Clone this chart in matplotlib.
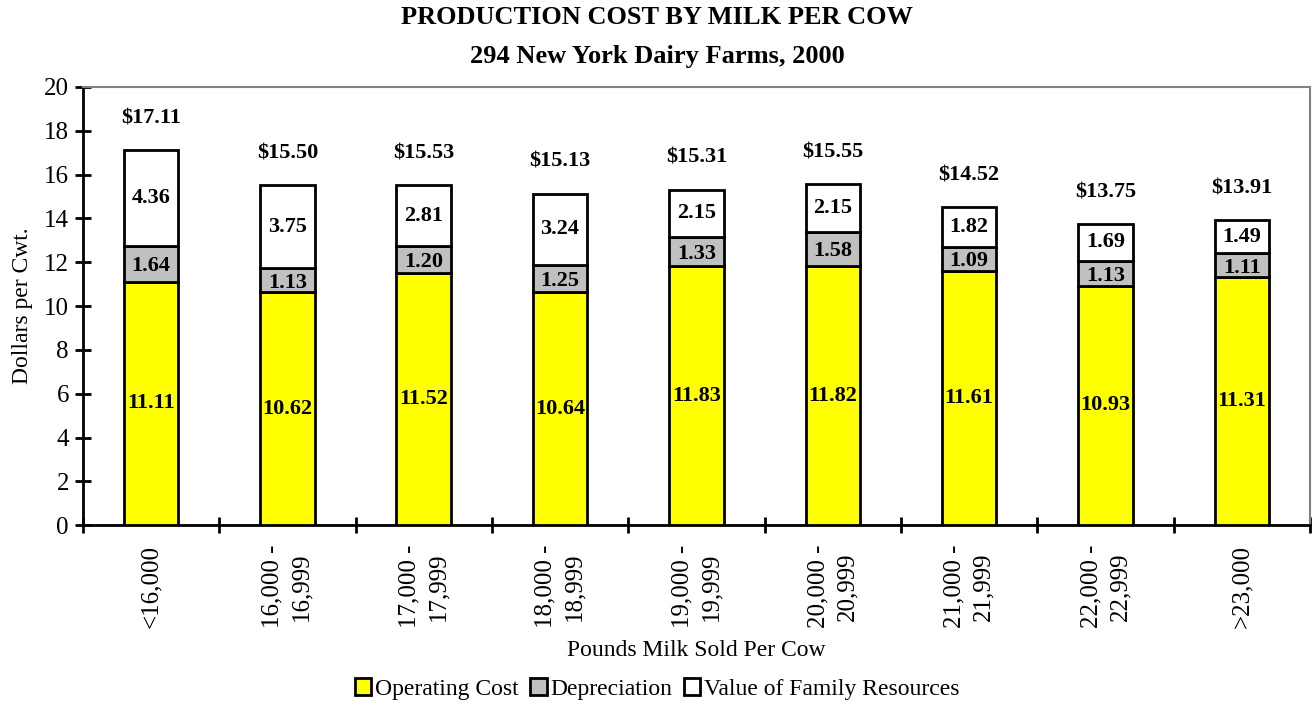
import matplotlib
matplotlib.use("Agg")
import matplotlib.pyplot as plt
import numpy as np

categories = ["<16,000", "16,000 -\n16,999", "17,000 -\n17,999", "18,000 -\n18,999",
              "19,000 -\n19,999", "20,000 -\n20,999", "21,000 -\n21,999",
              "22,000 -\n22,999", ">23,000"]
operating = [11.11, 10.62, 11.52, 10.64, 11.83, 11.82, 11.61, 10.93, 11.31]
depreciation = [1.64, 1.13, 1.20, 1.25, 1.33, 1.58, 1.09, 1.13, 1.11]
family = [4.36, 3.75, 2.81, 3.24, 2.15, 2.15, 1.82, 1.69, 1.49]
totals = [17.11, 15.50, 15.53, 15.13, 15.31, 15.55, 14.52, 13.75, 13.91]

plt.rcParams['font.family'] = ['Liberation Serif', 'DejaVu Serif']

fig = plt.figure(figsize=(13.14, 7.06), dpi=100)
ax = fig.add_axes([0.063, 0.256, 0.934, 0.621])

x = np.arange(len(categories))
op = np.array(operating)
dep = np.array(depreciation)
fam = np.array(family)
w = 0.4
ax.bar(x, op, w, color="#FFFF00", edgecolor="black", linewidth=2, label="Operating Cost", zorder=3)
ax.bar(x, dep, w, bottom=op, color="#C0C0C0", edgecolor="black", linewidth=2, label="Depreciation", zorder=3)
ax.bar(x, fam, w, bottom=op + dep, color="white", edgecolor="black", linewidth=2,
       label="Value of Family Resources", zorder=3)

lab = dict(ha="center", va="center", fontsize=16, fontweight="bold", zorder=4)
for i in range(len(x)):
    ax.text(x[i], op[i] / 2, f"{operating[i]:.2f}", **lab)
    ax.text(x[i], op[i] + dep[i] / 2 - 0.12, f"{depreciation[i]:.2f}", **lab)
    ax.text(x[i], op[i] + dep[i] + fam[i] / 2, f"{family[i]:.2f}", **lab)
    ax.text(x[i], totals[i] + 1.45, f"${totals[i]:.2f}", **lab)

ax.set_xlim(-0.5, len(categories) - 0.5)
ax.set_ylim(0, 20)
ax.set_yticks(range(0, 21, 2))
ax.set_xticks(x)
ax.set_xticklabels(categories, rotation=90, fontsize=18, ha="center", va="top",
                   multialignment="center", linespacing=1.4)
ax.set_xticks(np.arange(-0.5, len(categories), 1), minor=True)
ax.tick_params(axis="x", which="major", length=0, pad=14)
ax.tick_params(axis="x", which="minor", direction="inout", length=12, width=2)
ax.tick_params(axis="y", direction="inout", length=12, width=2, labelsize=18, pad=4)

for s in ["left", "bottom"]:
    ax.spines[s].set_linewidth(2)
for s in ["top", "right"]:
    ax.spines[s].set_color("#808080")
    ax.spines[s].set_linewidth(1.5)

ax.set_ylabel("Dollars per Cwt.", fontsize=17)
ax.yaxis.set_label_coords(-0.049, 0.5)
ax.yaxis.label.set_va("center")
ax.set_xlabel("Pounds Milk Sold Per Cow", fontsize=17)
ax.xaxis.set_label_coords(0.5, -0.285)
ax.xaxis.label.set_va("center")

fig.text(0.5, 1 - 18 / 706, "PRODUCTION COST BY MILK PER COW", ha="center", va="center",
         fontsize=19, fontweight="bold")
fig.text(0.5, 1 - 56 / 706, "294 New York Dairy Farms, 2000", ha="center", va="center",
         fontsize=19, fontweight="bold")

fig.legend(loc="center", bbox_to_anchor=(0.5, 1 - 689 / 706), ncol=3, frameon=False,
           fontsize=17, handlelength=0.7, handleheight=0.7, handletextpad=0.15,
           columnspacing=0.5, borderpad=0, borderaxespad=0)

fig.savefig("out.png", dpi=100)
